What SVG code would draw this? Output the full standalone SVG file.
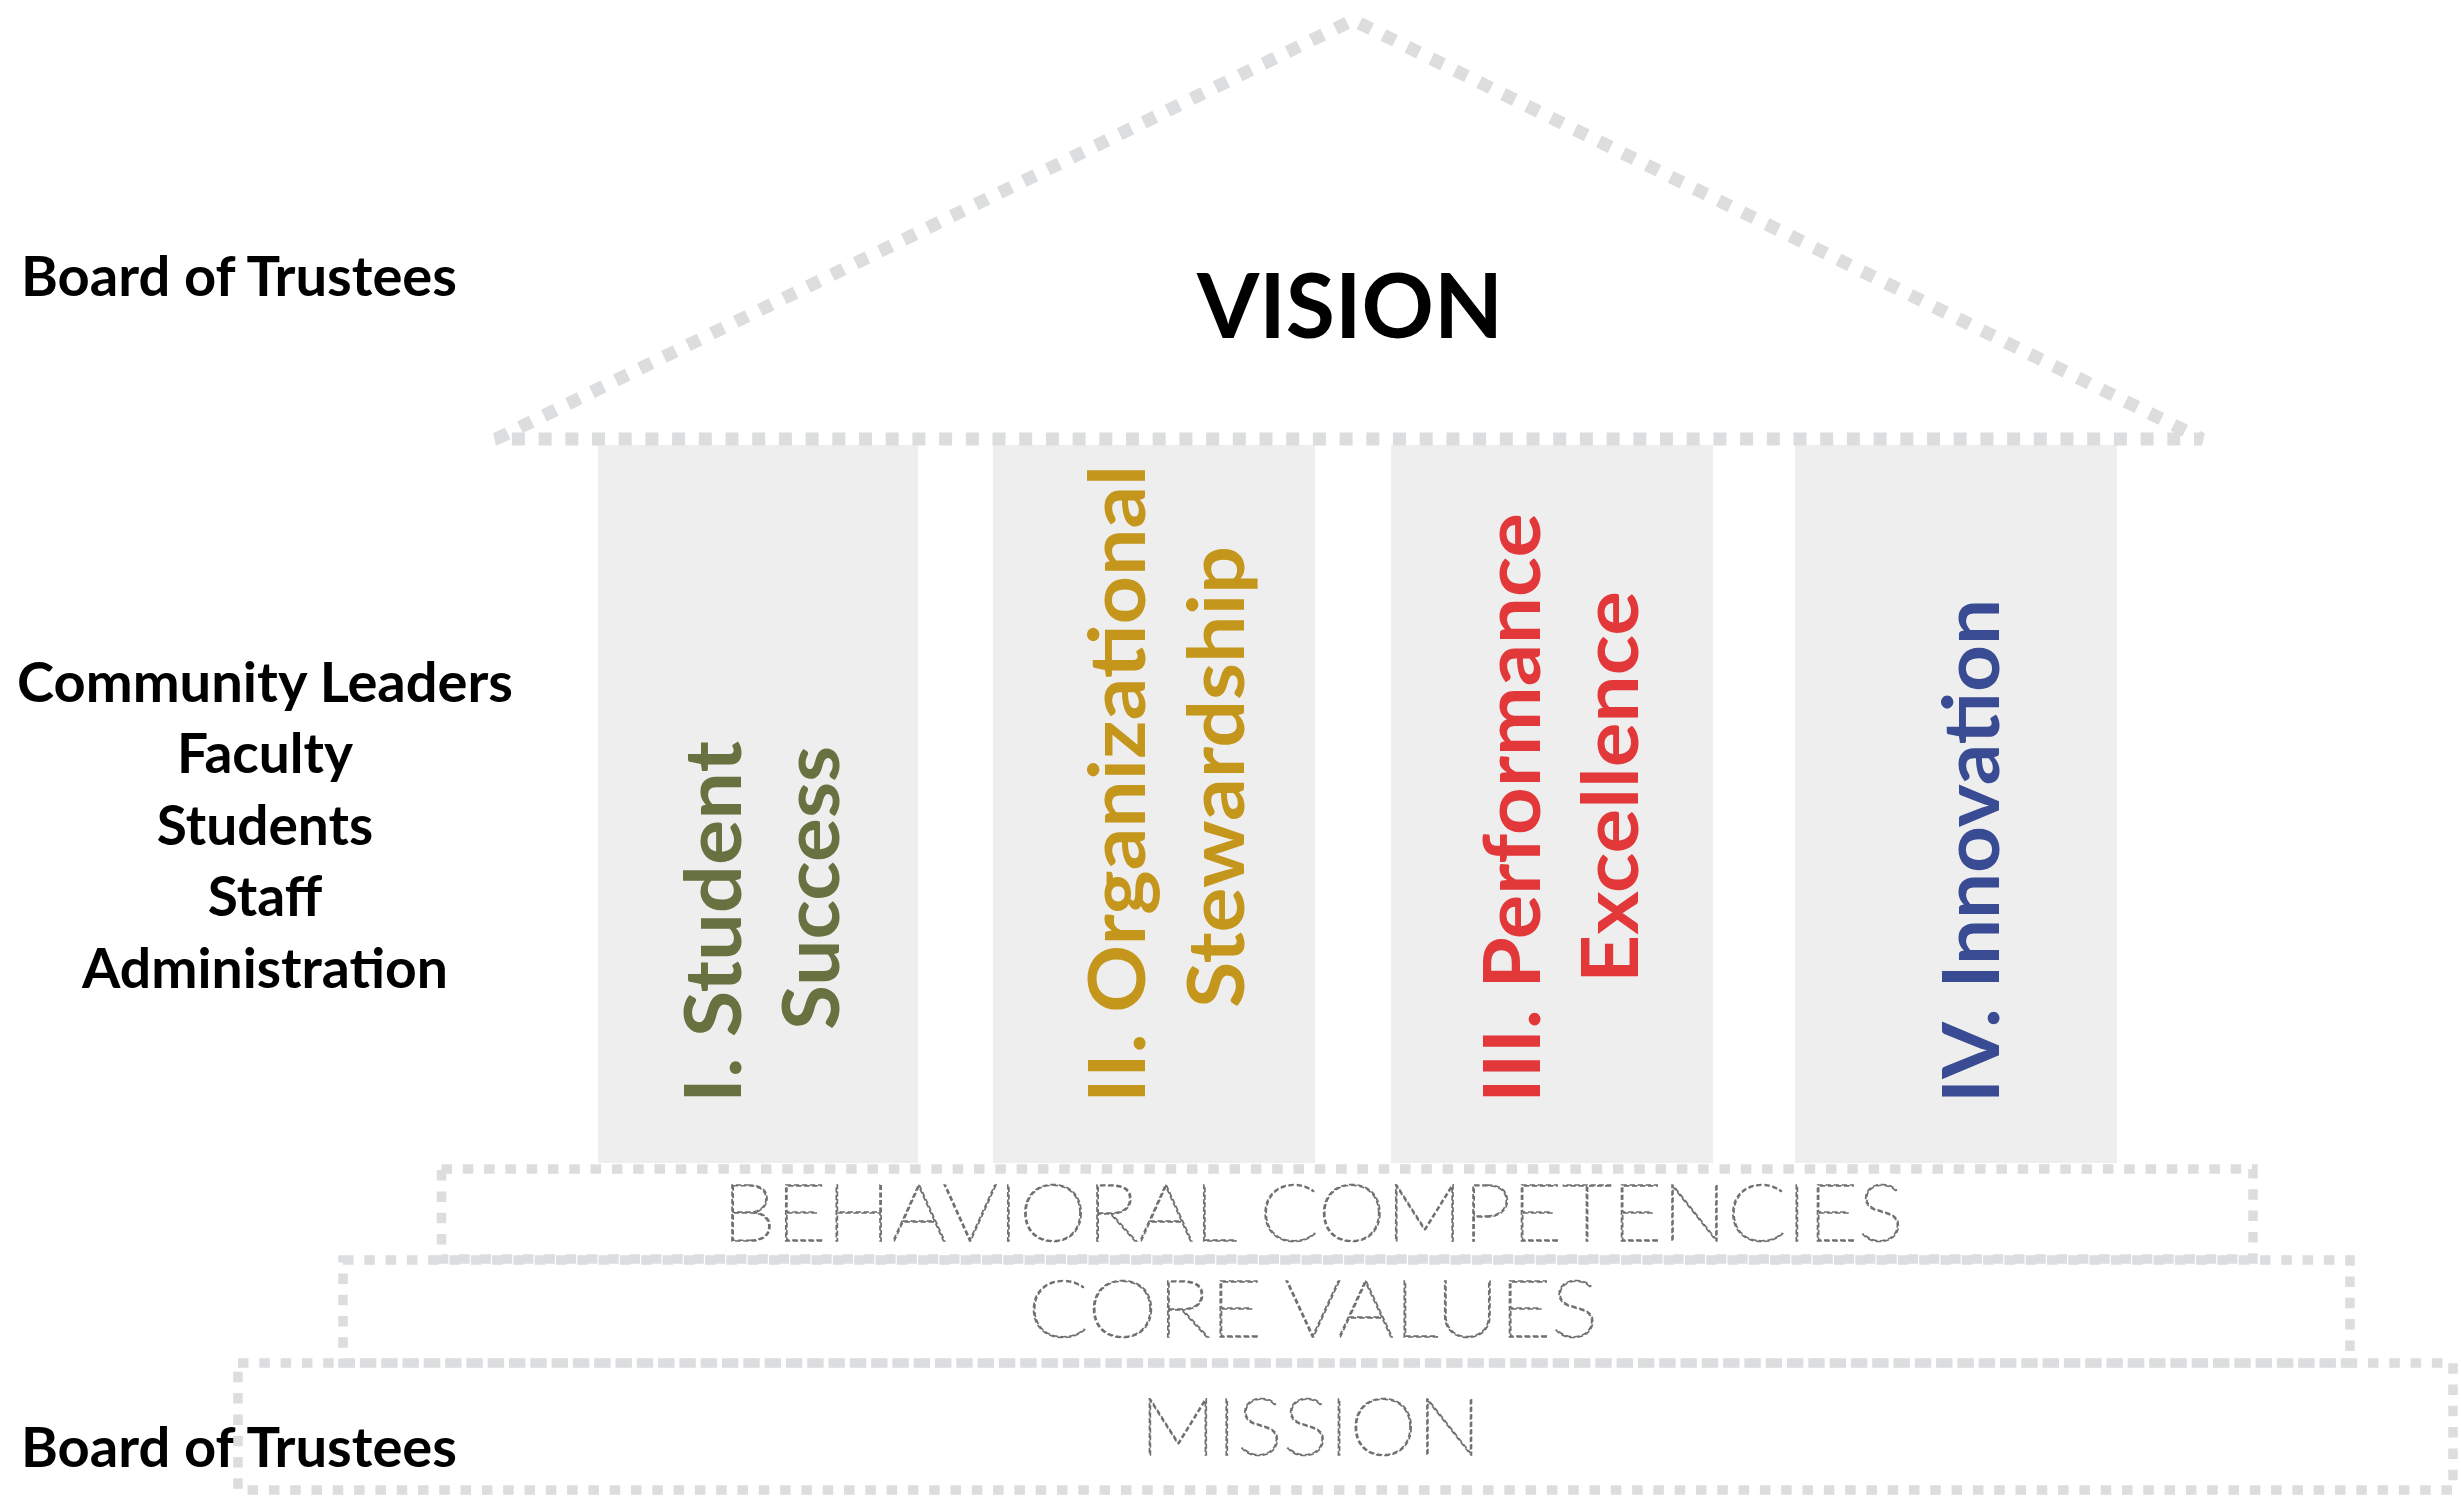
<svg xmlns="http://www.w3.org/2000/svg" width="2461" height="1496" viewBox="0 0 2461 1496">
<style>
.lbl{font-family:Lato,"Noto Sans","Liberation Sans",sans-serif;font-weight:700;font-size:55px;fill:#000}
.pil{fill:#EEEEEE}
.ptxt{font-family:Lato,"Noto Sans","Liberation Sans",sans-serif;font-weight:700;font-size:78px}
.dash{fill:none;stroke:#DCDDDF}
.roof{stroke-width:13;stroke-dasharray:13 13.7}
.box{stroke-width:9.5;stroke-dasharray:10.5 10.8}
.base{font-family:Lato,"Liberation Sans",sans-serif;font-weight:100;font-size:81px;fill:none;stroke:#707070;stroke-width:1.6;stroke-dasharray:5 2.5;text-anchor:middle}
</style>
<rect width="2461" height="1496" fill="#fff"/>
<g id="labels">
<text class="lbl" x="21" y="296" textLength="436" lengthAdjust="spacingAndGlyphs">Board of Trustees</text>
<g text-anchor="middle">
<text class="lbl" x="265" y="702" textLength="496" lengthAdjust="spacingAndGlyphs">Community Leaders</text>
<text class="lbl" x="265" y="773">Faculty</text>
<text class="lbl" x="265" y="845">Students</text>
<text class="lbl" x="265" y="916">Staff</text>
<text class="lbl" x="265" y="988" textLength="366" lengthAdjust="spacingAndGlyphs">Administration</text>
</g>
<text class="lbl" x="21" y="1467" textLength="436" lengthAdjust="spacingAndGlyphs">Board of Trustees</text>
</g>
<g id="pillar1">
<rect class="pil" x="598" y="445" width="320" height="718"/>
<text class="ptxt" fill="#687240" transform="rotate(-90 741 1103)" x="741" y="1103" textLength="362" lengthAdjust="spacingAndGlyphs">I. Student</text>
<text class="ptxt" fill="#687240" transform="rotate(-90 839 1030)" x="839" y="1030" textLength="284" lengthAdjust="spacingAndGlyphs">Success</text>
</g>
<g id="pillar2">
<rect class="pil" x="993" y="445" width="322" height="718"/>
<text class="ptxt" fill="#C4961B" transform="rotate(-90 1145 1103)" x="1145" y="1103" textLength="638" lengthAdjust="spacingAndGlyphs">II. Organizational</text>
<text class="ptxt" fill="#C4961B" transform="rotate(-90 1244 1008)" x="1244" y="1008" textLength="462" lengthAdjust="spacingAndGlyphs">Stewardship</text>
</g>
<g id="pillar3">
<rect class="pil" x="1391" y="445" width="322" height="718"/>
<text class="ptxt" fill="#E2383A" transform="rotate(-90 1540 1103)" x="1540" y="1103" textLength="590" lengthAdjust="spacingAndGlyphs">III. Performance</text>
<text class="ptxt" fill="#E2383A" transform="rotate(-90 1638 983)" x="1638" y="983" textLength="392" lengthAdjust="spacingAndGlyphs">Excellence</text>
</g>
<g id="pillar4">
<rect class="pil" x="1795" y="445" width="322" height="718"/>
<text class="ptxt" fill="#394C93" transform="rotate(-90 1999 1103)" x="1999" y="1103" textLength="504" lengthAdjust="spacingAndGlyphs">IV. Innovation</text>
</g>
<g id="roof">
<polygon class="dash roof" points="496,439 1353,20 2202,439"/>
<text x="1350" y="338" text-anchor="middle" font-family="Lato,'Noto Sans','Liberation Sans',sans-serif" font-weight="700" font-size="90" textLength="306" lengthAdjust="spacingAndGlyphs">VISION</text>
</g>
<g id="behavioral">
<rect class="dash box" x="441.5" y="1169" width="1811.5" height="90"/>
<text class="base" x="1313" y="1241" textLength="1182" lengthAdjust="spacingAndGlyphs">BEHAVIORAL COMPETENCIES</text>
</g>
<g id="corevalues">
<rect class="dash box" x="343" y="1260" width="2007" height="103"/>
<text class="base" x="1313" y="1337" textLength="571" lengthAdjust="spacingAndGlyphs">CORE VALUES</text>
</g>
<g id="mission">
<rect class="dash box" x="238" y="1363" width="2215" height="127"/>
<text class="base" x="1310.5" y="1455" textLength="342" lengthAdjust="spacingAndGlyphs">MISSION</text>
</g>
<g id="connectors"></g>
</svg>
